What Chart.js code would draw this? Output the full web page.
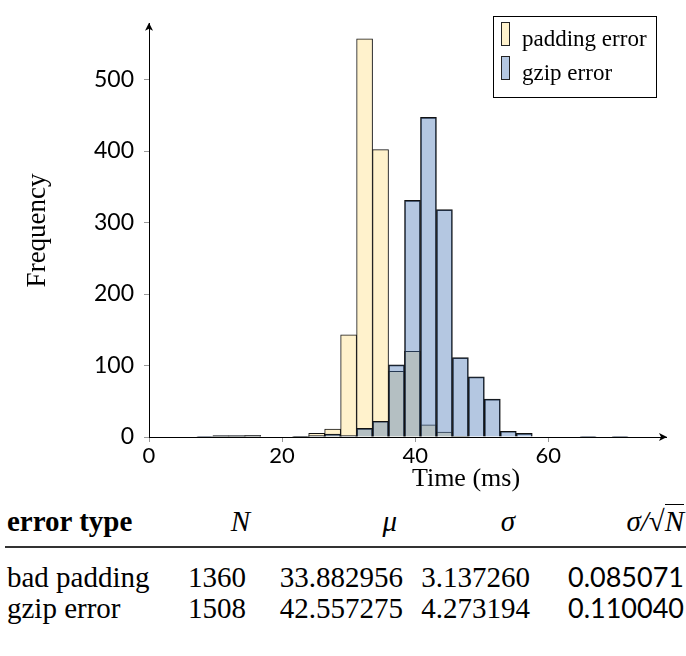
<!DOCTYPE html>
<html><head><meta charset="utf-8">
<script src="https://cdn.jsdelivr.net/npm/chart.js@4"></script>
<style>
html,body{margin:0;padding:0;background:#fff;}
#wrap{position:relative;width:686px;height:656px;overflow:hidden;}
#c{position:absolute;left:0;top:0;}
.cell{position:absolute;white-space:nowrap;color:#000;}
.rule{position:absolute;left:5px;width:681px;height:2px;background:#333;}
</style></head><body>
<div id="wrap"><canvas id="c" width="686" height="500"></canvas><div id="tbl"></div></div>
<script>
// ---- data ----
const binCenters   = [8.4, 10.8, 13.2, 15.6, 18.0, 20.4, 22.8, 25.2, 27.6, 30.0, 32.4, 34.8, 37.2, 39.6, 42.0, 44.4, 46.8, 49.2, 51.6, 54.0, 56.4, 58.8, 61.2, 63.6, 66.0, 68.4, 70.8];
const paddingCounts = [0, 1, 1, 2, 0, 0, 1, 5, 11, 143, 557, 402, 92, 120, 17, 7, 1, 0, 0, 0, 0, 0, 0, 0, 0, 0, 0];
const gzipCounts    = [1, 2, 2, 2, 0, 0, 1, 2, 4, 2, 12, 22, 101, 331, 447, 318, 111, 84, 53, 8, 5, 0, 0, 0, 1, 0, 1];
const xTicks = [0, 20, 40, 60];
const yTicks = [0, 100, 200, 300, 400, 500];
const seriesLabels = ['padding error', 'gzip error'];
const xTitle = 'Time (ms)';
const yTitle = 'Frequency';
const tableHeader = ['error type', 'N', 'μ', 'σ', 'σ/√N'];
const tableRows = [
  ['bad padding', '1360', '33.882956', '3.137260', '0.085071'],
  ['gzip error',  '1508', '42.557275', '4.273194', '0.110040']
];

const yellow = '#fff2cc';
const blue = 'rgba(68,114,180,0.4)';
const serif = '"Liberation Serif", serif';
const sans = 'Lato, "Open Sans", sans-serif';

function toPoints(counts){
  return binCenters.map((x,i)=>({x:x, y: counts[i] > 0 ? counts[i] : null}));
}

const extras = {
  id: 'extras',
  afterDraw(chart){
    const ctx = chart.ctx;
    const xs = chart.scales.x, ys = chart.scales.y;
    const x0 = xs.left, yb = ys.bottom, xr = xs.right, yt = ys.top;
    ctx.save();
    ctx.fillStyle = '#000';
    ctx.beginPath();
    ctx.moveTo(xr + 1, yb);
    ctx.lineTo(xr - 7, yb - 4);
    ctx.lineTo(xr - 5, yb);
    ctx.lineTo(xr - 7, yb + 4);
    ctx.closePath(); ctx.fill();
    ctx.beginPath();
    ctx.moveTo(x0, yt - 1);
    ctx.lineTo(x0 - 4, yt + 7);
    ctx.lineTo(x0, yt + 5);
    ctx.lineTo(x0 + 4, yt + 7);
    ctx.closePath(); ctx.fill();
    ctx.font = '26px ' + serif;
    ctx.textAlign = 'center';
    ctx.textBaseline = 'middle';
    ctx.fillText(xTitle, 466, 479);
    ctx.fillStyle = '#fff';
    ctx.fillRect(493, 16, 164, 82);
    ctx.strokeStyle = '#000';
    ctx.lineWidth = 1;
    ctx.strokeRect(493.5, 16.5, 163, 81);
    const ds = chart.data.datasets;
    const rows = [22, 56];
    ds.forEach((d, i) => {
      const y = rows[i];
      ctx.fillStyle = '#fff';
      ctx.fillRect(502, y, 7, 23);
      ctx.fillStyle = d.backgroundColor;
      ctx.fillRect(502, y, 7, 23);
      ctx.strokeStyle = '#222';
      ctx.strokeRect(501.5, y + 0.5, 8, 23);
      ctx.fillStyle = '#000';
      ctx.font = '23px ' + serif;
      ctx.textAlign = 'left';
      ctx.textBaseline = 'alphabetic';
      ctx.fillText(d.label, 522, y + 24);
    });
    ctx.restore();
  }
};

new Chart(document.getElementById('c'), {
  type: 'bar',
  data: {
    datasets: [
      { label: seriesLabels[0], data: toPoints(paddingCounts), backgroundColor: yellow, borderColor: '#111', borderWidth: 1, order: 2 },
      { label: seriesLabels[1], data: toPoints(gzipCounts), backgroundColor: blue, borderColor: '#111', borderWidth: 1, order: 1 }
    ]
  },
  options: {
    responsive: false,
    animation: false,
    devicePixelRatio: 1,
    grouped: false,
    barPercentage: 1,
    categoryPercentage: 1,
    layout: { padding: { top: 8, right: 20, left: 0, bottom: 0 } },
    plugins: { legend: { display: false }, tooltip: { enabled: false } },
    scales: {
      x: {
        type: 'linear', min: 0, max: 77.7, offset: false,
        afterBuildTicks: s => { s.ticks = xTicks.map(v => ({ value: v })); },
        afterFit: s => { s.height = 63; },
        grid: { display: true, drawOnChartArea: false, drawTicks: true, tickLength: 5, tickColor: '#999', offset: false },
        border: { display: true, color: '#000', width: 1 },
        ticks: { color: '#000', font: { family: sans, size: 22 }, padding: 1, autoSkip: false, maxRotation: 0 }
      },
      y: {
        type: 'linear', min: 0, max: 578,
        afterBuildTicks: s => { s.ticks = yTicks.map(v => ({ value: v })); },
        afterFit: s => { s.width = 149; },
        grid: { display: true, drawOnChartArea: false, drawTicks: true, tickLength: 5, tickColor: '#999' },
        border: { display: true, color: '#000', width: 1 },
        ticks: { color: '#000', font: { family: sans, size: 23 }, padding: 10 },
        title: { display: true, text: yTitle, color: '#000', font: { family: serif, size: 27 }, padding: { top: 22, bottom: 0 } }
      }
    }
  },
  plugins: [extras]
});

// ---- table ----
const tbl = document.getElementById('tbl');
const SER = ['"Liberation Serif", serif', 0.8375];
const SAN = ['Lato, "Open Sans", sans-serif', 0.887];
function cell(html, o){
  const d = document.createElement('div');
  d.className = 'cell';
  d.innerHTML = html;
  const fam = o.font || SER;
  d.style.fontFamily = fam[0];
  d.style.fontSize = o.size + 'px';
  d.style.lineHeight = o.size + 'px';
  d.style.height = o.size + 'px';
  d.style.top = (o.base - fam[1] * o.size) + 'px';
  if (o.right != null) { d.style.left = (o.right - 400) + 'px'; d.style.width = '400px'; d.style.textAlign = 'right'; }
  else d.style.left = o.x + 'px';
  if (o.bold) d.style.fontWeight = 'bold';
  if (o.italic) d.style.fontStyle = 'italic';
  tbl.appendChild(d);
}
const FS = 29;
const hdrBase = 531;
cell(tableHeader[0], { x: 7, base: hdrBase, size: FS, bold: true });
cell(tableHeader[1], { right: 250, base: hdrBase, size: FS, italic: true });
cell(tableHeader[2], { right: 397, base: hdrBase, size: FS, italic: true });
cell(tableHeader[3], { right: 515, base: hdrBase, size: FS, italic: true });
cell(tableHeader[4].replace('√N', '√<span style="border-top:1.5px solid #000;">N</span>'), { right: 684, base: hdrBase, size: FS, italic: true });
const rule = document.createElement('div'); rule.className = 'rule'; rule.style.top = '546px'; tbl.appendChild(rule);
tableRows.forEach((row, r) => {
  const base = 587 + r * 31;
  cell(row[0], { x: 7, base: base, size: FS });
  cell(row[1], { right: 246, base: base, size: FS });
  cell(row[2], { right: 403, base: base, size: FS });
  cell(row[3], { right: 530, base: base, size: FS });
  cell(row[4], { right: 684, base: base, size: 27, font: SAN });
});
</script>
</body></html>
